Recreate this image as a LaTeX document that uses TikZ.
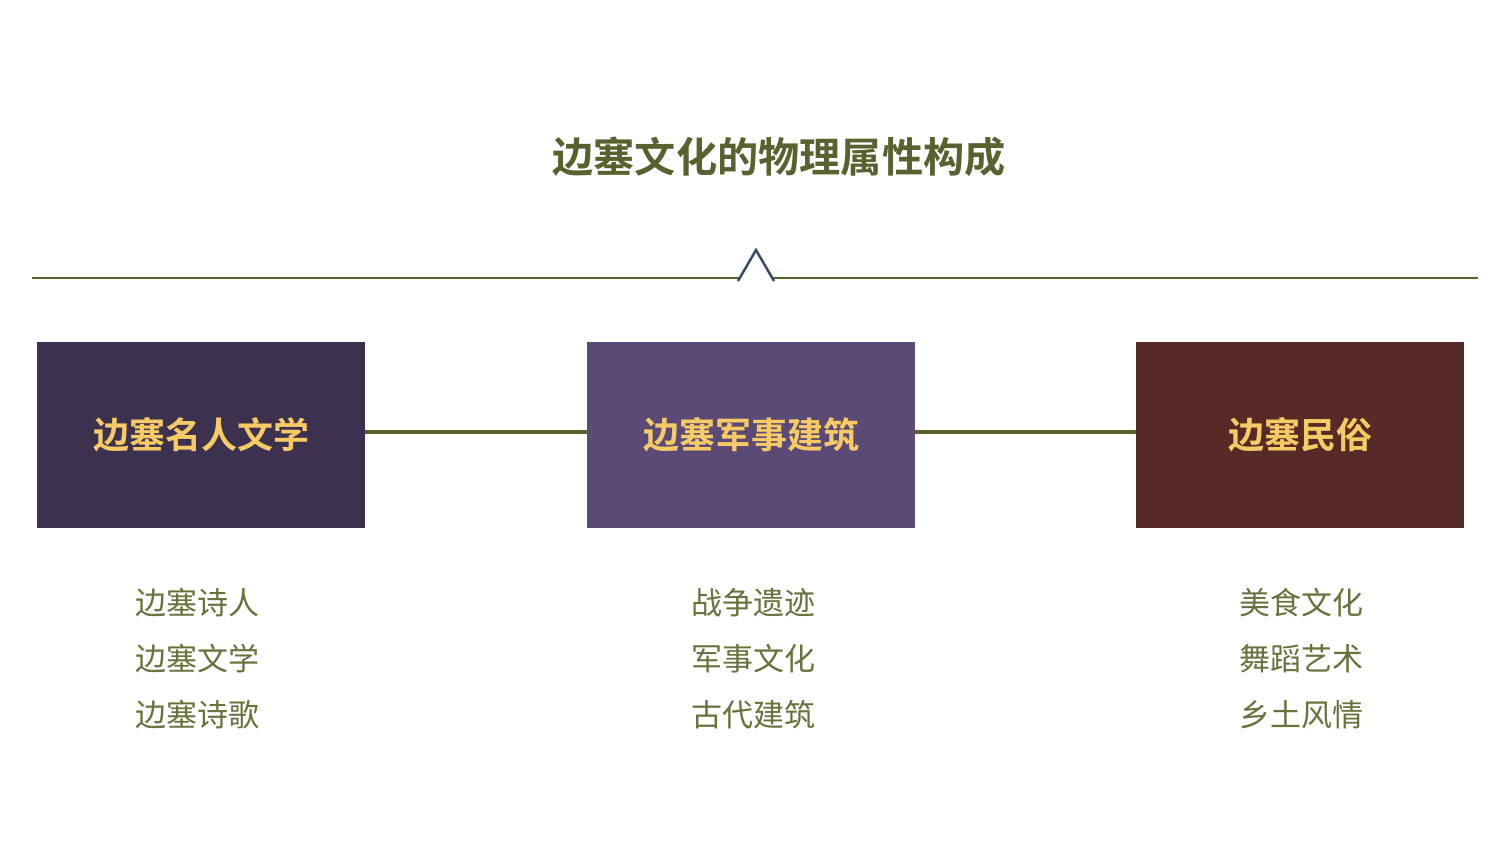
\documentclass[tikz,border=0pt]{standalone}
\usepackage{fontspec}
\newfontfamily\cjk{Noto Sans CJK SC}
\newfontfamily\cjkb{Noto Sans CJK SC Bold}
\definecolor{olive}{HTML}{56632F}
\definecolor{listc}{HTML}{66733D}
\definecolor{caretc}{HTML}{3C4A6A}
\definecolor{boxa}{HTML}{3D3150}
\definecolor{boxb}{HTML}{5B4A76}
\definecolor{boxc}{HTML}{582A27}
\definecolor{gold}{HTML}{F6CB66}
\tikzset{
  x=1pt,y=-1pt,
  catbox/.style={minimum width=328pt,minimum height=186pt,inner sep=0pt,text=gold,font=\cjkb\fontsize{36}{40}\selectfont},
  item/.style={text=listc,font=\cjk\fontsize{31}{34}\selectfont,inner sep=0pt},
  link/.style={draw=olive,line width=3.5pt},
}
\begin{document}
\begin{tikzpicture}
\useasboundingbox (0,0) rectangle (1500,844);
\fill[white] (0,0) rectangle (1500,844);
\node[text=olive,font=\cjkb\fontsize{41.2}{46}\selectfont,inner sep=0pt] (title) at (779,157) {边塞文化的物理属性构成};
\coordinate (l0) at (32,278);
\coordinate (l1) at (740,278);
\coordinate (l2) at (772,278);
\coordinate (l3) at (1478,278);
\coordinate (tip) at (756,250);
\draw[olive,line width=2.5pt] (l0) -- (l1);
\draw[olive,line width=2.5pt] (l2) -- (l3);
\draw[caretc,line width=2.5pt,line join=miter] (738,281) -- (tip) -- (774,281);
\node[catbox,fill=boxa] (a) at (201,435) {边塞名人文学};
\node[catbox,fill=boxb] (b) at (751,435) {边塞军事建筑};
\node[catbox,fill=boxc] (c) at (1300,435) {边塞民俗};
\draw[link] (a.east |- 0,432) -- (b.west |- 0,432);
\draw[link] (b.east |- 0,432) -- (c.west |- 0,432);
\node[item] (a1) at (197,603) {边塞诗人};
\node[item] (a2) at (197,659) {边塞文学};
\node[item] (a3) at (197,715) {边塞诗歌};
\node[item] (b1) at (753,603) {战争遗迹};
\node[item] (b2) at (753,659) {军事文化};
\node[item] (b3) at (753,715) {古代建筑};
\node[item] (c1) at (1301,603) {美食文化};
\node[item] (c2) at (1301,659) {舞蹈艺术};
\node[item] (c3) at (1301,715) {乡土风情};
\end{tikzpicture}
\end{document}
